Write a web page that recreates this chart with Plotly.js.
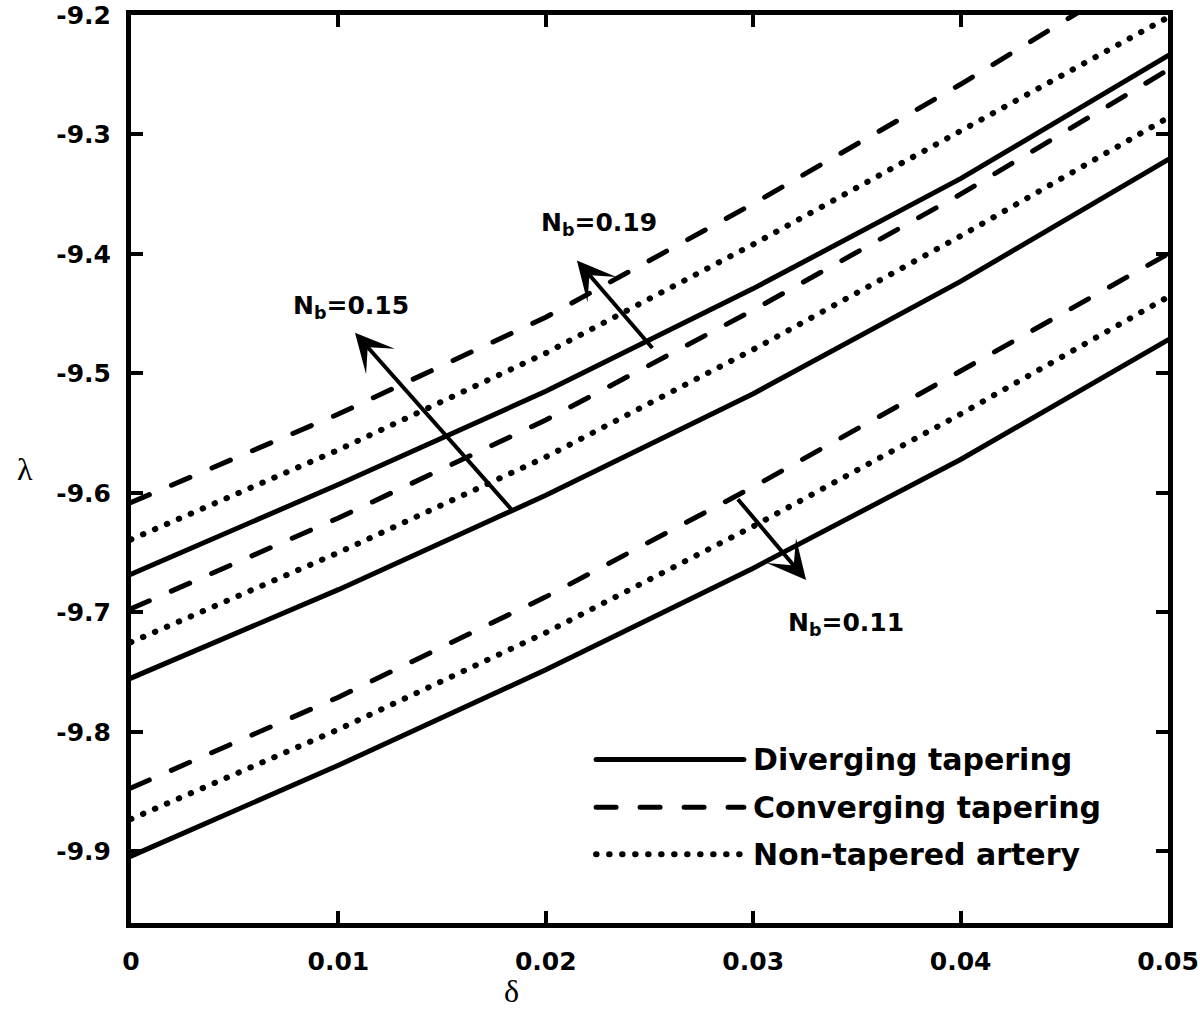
<!DOCTYPE html>
<html>
<head>
<meta charset="utf-8">
<script src="https://cdn.plot.ly/plotly-3.0.1.min.js"></script>
<style>
  body { margin: 0; background: #fff; }
  /* pontas redondas para os pontos e tracos */
  #grafico .scatterlayer path.js-line, #grafico .shapelayer path { stroke-linecap: round; }
</style>
</head>
<body>
<div id="grafico" style="width:1200px;height:1021px;"></div>
<script>
var delta = [0, 0.01, 0.02, 0.03, 0.04, 0.05];

// grupo de cima (Nb = 0.19)
var convergente19 = [-9.608, -9.534, -9.453, -9.358, -9.258, -9.152];
var naoAfunilada19 = [-9.639, -9.564, -9.483, -9.392, -9.297, -9.202];
var divergente19 = [-9.668, -9.593, -9.515, -9.429, -9.337, -9.234];
// grupo do meio (Nb = 0.15)
var convergente15 = [-9.697, -9.621, -9.539, -9.447, -9.350, -9.246];
var naoAfunilada15 = [-9.725, -9.650, -9.570, -9.480, -9.385, -9.286];
var divergente15 = [-9.755, -9.681, -9.602, -9.517, -9.423, -9.321];
// grupo de baixo (Nb = 0.11)
var convergente11 = [-9.847, -9.771, -9.687, -9.595, -9.498, -9.400];
var naoAfunilada11 = [-9.873, -9.798, -9.717, -9.628, -9.534, -9.436];
var divergente11 = [-9.904, -9.828, -9.748, -9.663, -9.572, -9.472];

var xTicks = [0, 0.01, 0.02, 0.03, 0.04, 0.05];
var xTickText = ['0', '0.01', '0.02', '0.03', '0.04', '0.05'];
var yTicks = [-9.9, -9.8, -9.7, -9.6, -9.5, -9.4, -9.3, -9.2];
var yTickText = ['-9.9', '-9.8', '-9.7', '-9.6', '-9.5', '-9.4', '-9.3', '-9.2'];

var nomesLegenda = ['Diverging tapering', 'Converging tapering', 'Non-tapered artery'];

var estiloDiv = {color: '#000', width: 5, dash: 'solid'};
var estiloConv = {color: '#000', width: 5, dash: '20px,24px'};
var estiloNao = {color: '#000', width: 6, dash: '0.5px,12.5px'};

function curva(y, estilo) {
  return {type: 'scatter', mode: 'lines', x: delta, y: y, line: estilo,
          showlegend: false, hoverinfo: 'skip'};
}

var data = [
  curva(convergente19, estiloConv), curva(naoAfunilada19, estiloNao), curva(divergente19, estiloDiv),
  curva(convergente15, estiloConv), curva(naoAfunilada15, estiloNao), curva(divergente15, estiloDiv),
  curva(convergente11, estiloConv), curva(naoAfunilada11, estiloNao), curva(divergente11, estiloDiv)
];

var fonteNegrito = {family: 'DejaVu Sans', size: 25, weight: 'bold', color: '#000'};

function seta(xCabeca, yCabeca, xCauda, yCauda) {
  return {x: xCabeca, y: yCabeca, ax: xCauda, ay: yCauda, xref: 'x', yref: 'y',
          axref: 'x', ayref: 'y', text: '', showarrow: true, arrowhead: 3,
          arrowsize: 1.6, arrowwidth: 4, arrowcolor: '#000'};
}

function rotulo(x, y, texto) {
  return {x: x, y: y, xref: 'x', yref: 'y', text: texto, showarrow: false,
          font: {family: 'DejaVu Sans', size: 25, weight: 'bold', color: '#000'}};
}

// legenda desenhada a mao (linhas longas como no original)
var linhasY = [0.1802, 0.1275, 0.0758];
var estilos = [estiloDiv, estiloConv, estiloNao];
var shapes = [];
var annotations = [
  seta(0.0108, -9.466, 0.0184, -9.615),
  seta(0.0215, -9.4055, 0.0252, -9.480),
  seta(0.03255, -9.673, 0.0292, -9.604),
  rotulo(0.01063, -9.444, 'N<sub>b</sub>=0.15'),
  rotulo(0.02255, -9.3746, 'N<sub>b</sub>=0.19'),
  rotulo(0.03447, -9.7096, 'N<sub>b</sub>=0.11'),
  {x: -0.102, y: 0.5, xref: 'paper', yref: 'paper', xanchor: 'center', yanchor: 'middle',
   text: 'λ', showarrow: false, font: {family: 'Liberation Serif', size: 32, color: '#000'}},
  {x: 0.367, y: -0.0747, xref: 'paper', yref: 'paper', xanchor: 'center', yanchor: 'middle',
   text: 'δ', showarrow: false, font: {family: 'Liberation Serif', size: 32, color: '#000'}}
];
for (var i = 0; i < nomesLegenda.length; i++) {
  shapes.push({type: 'line', xref: 'paper', yref: 'paper', x0: 0.4485, x1: 0.591,
               y0: linhasY[i], y1: linhasY[i], line: estilos[i]});
  annotations.push({x: 0.5977, y: linhasY[i], xref: 'paper', yref: 'paper',
                    xanchor: 'left', yanchor: 'middle', text: nomesLegenda[i], showarrow: false,
                    font: {family: 'DejaVu Sans', size: 30, weight: 'bold', color: '#000'}});
}

var eixoComum = {
  showline: true, linecolor: '#000', linewidth: 5, mirror: 'ticks',
  ticks: 'inside', ticklen: 12, tickwidth: 4, tickcolor: '#000',
  showgrid: false, zeroline: false, tickfont: fonteNegrito, tickmode: 'array',
  ticklabeloverflow: 'allow'
};

var layout = {
  width: 1200, height: 1021,
  margin: {l: 131, r: 32, t: 15, b: 98},
  paper_bgcolor: '#fff', plot_bgcolor: '#fff',
  showlegend: false,
  xaxis: Object.assign({}, eixoComum, {range: [0, 0.05], tickvals: xTicks, ticktext: xTickText,
                                       ticklabelstandoff: 12}),
  yaxis: Object.assign({}, eixoComum, {range: [-9.96, -9.2], tickvals: yTicks, ticktext: yTickText,
                                       ticklabelstandoff: 10}),
  shapes: shapes,
  annotations: annotations
};

Plotly.newPlot('grafico', data, layout, {staticPlot: true});
</script>
</body>
</html>
